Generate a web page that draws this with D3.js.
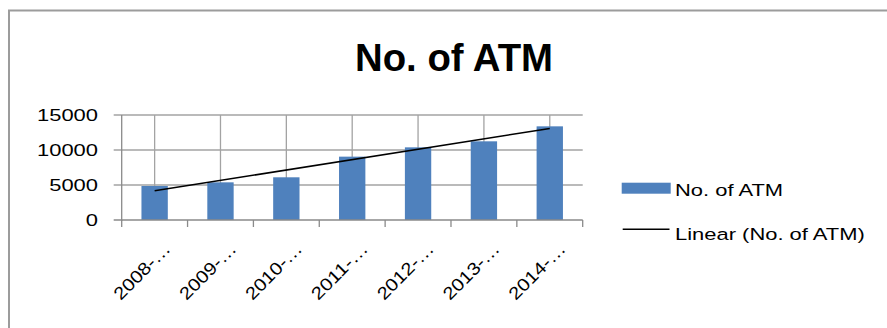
<!DOCTYPE html>
<html>
<head>
<meta charset="utf-8">
<script src="https://cdn.jsdelivr.net/npm/d3@7"></script>
<style>
  html, body { margin: 0; padding: 0; background: #fff; }
  svg { display: block; }
  text { font-family: "Liberation Sans", Arial, sans-serif; fill: #000; }
</style>
</head>
<body>
<script>
// ---- data ----
const chartTitle = "No. of ATM";
const categories = ["2008-…", "2009-…", "2010-…", "2011-…", "2012-…", "2013-…", "2014-…"];
const atmValues = [4860, 5380, 6100, 9050, 10380, 11240, 13380];
const yTicks = [0, 5000, 10000, 15000];
const seriesName = "No. of ATM";
const trendName = "Linear (No. of ATM)";

// ---- layout ----
const W = 887, H = 328;
const plot = { left: 121.7, right: 582.7, top: 115, bottom: 220 };
const sx = 1.33; // horizontal stretch of the original rendering
const fontSize = 16.5;

const svg = d3.select("body").append("svg").attr("width", W).attr("height", H);

// outer frame
svg.append("rect")
  .attr("x", 9).attr("y", 10.5).attr("width", 900).attr("height", 400)
  .attr("fill", "none").attr("stroke", "#9c9c9c").attr("stroke-width", 2);

// title
svg.append("text")
  .attr("x", 454).attr("y", 71)
  .attr("text-anchor", "middle")
  .attr("font-size", 38).attr("font-weight", "bold")
  .attr("textLength", 198).attr("lengthAdjust", "spacingAndGlyphs")
  .text(chartTitle);

// scales
const x = d3.scaleBand().domain(categories)
  .range([plot.left, plot.right]).paddingInner(0.6).paddingOuter(0.3);
const xStep = d3.scalePoint().domain(categories)
  .range([plot.left, plot.right]).padding(0.5);
const y = d3.scaleLinear().domain([0, 15000]).range([plot.bottom, plot.top]);

const gridColor = "#a3a3a3";
const axisColor = "#8a8a8a";

// horizontal gridlines (with tick extensions to the left)
svg.append("g").selectAll("line").data(yTicks.filter(d => d > 0)).join("line")
  .attr("x1", plot.left - 8).attr("x2", plot.right)
  .attr("y1", d => y(d)).attr("y2", d => y(d))
  .attr("stroke", gridColor).attr("stroke-width", 1.3);

// vertical gridlines at category centres
svg.append("g").selectAll("line").data(categories).join("line")
  .attr("x1", d => xStep(d)).attr("x2", d => xStep(d))
  .attr("y1", plot.top).attr("y2", plot.bottom)
  .attr("stroke", gridColor).attr("stroke-width", 1.3);

// y axis line
svg.append("line")
  .attr("x1", plot.left).attr("x2", plot.left)
  .attr("y1", plot.top).attr("y2", plot.bottom + 1)
  .attr("stroke", axisColor).attr("stroke-width", 1.3);

// bars
svg.append("g").selectAll("rect").data(atmValues).join("rect")
  .attr("x", (d, i) => x(categories[i]))
  .attr("width", x.bandwidth())
  .attr("y", d => y(d))
  .attr("height", d => y(0) - y(d))
  .attr("fill", "#4f81bd");

// x axis line + ticks at category boundaries
svg.append("line")
  .attr("x1", plot.left - 8).attr("x2", plot.right)
  .attr("y1", plot.bottom).attr("y2", plot.bottom)
  .attr("stroke", axisColor).attr("stroke-width", 1.3);
const bounds = categories.map(c => xStep(c) - xStep.step() / 2).concat([plot.right]);
svg.append("g").selectAll("line").data(bounds).join("line")
  .attr("x1", d => d).attr("x2", d => d)
  .attr("y1", plot.bottom).attr("y2", plot.bottom + 7)
  .attr("stroke", axisColor).attr("stroke-width", 1.3);

// y tick labels
svg.append("g").selectAll("text").data(yTicks).join("text")
  .attr("transform", d => `translate(98,${y(d)}) scale(${sx},1)`)
  .attr("text-anchor", "end").attr("dy", "0.36em")
  .attr("font-size", fontSize)
  .text(d => d);

// x tick labels (rotated)
svg.append("g").selectAll("text").data(categories).join("text")
  .attr("transform", d => `translate(${xStep(d) + 17},${plot.bottom + 30}) rotate(-45)`)
  .attr("text-anchor", "end")
  .attr("font-size", 17.5)
  .attr("textLength", 72).attr("lengthAdjust", "spacingAndGlyphs")
  .text(d => d);

// linear trendline (least squares)
const n = atmValues.length;
const xs = d3.range(n);
const mx = d3.mean(xs), my = d3.mean(atmValues);
const slope = d3.sum(xs, i => (i - mx) * (atmValues[i] - my)) / d3.sum(xs, i => (i - mx) ** 2);
const intercept = my - slope * mx;
const trend = [0, n - 1].map(i => [xStep(categories[i]), y(intercept + slope * i)]);
svg.append("path")
  .attr("d", d3.line()(trend))
  .attr("fill", "none").attr("stroke", "#000").attr("stroke-width", 1.6);

// legend
svg.append("rect")
  .attr("x", 621.7).attr("y", 182.7).attr("width", 49).attr("height", 11)
  .attr("fill", "#4f81bd");
svg.append("text")
  .attr("transform", `translate(675,195.5) scale(${sx},1)`)
  .attr("font-size", fontSize).text(seriesName);
svg.append("line")
  .attr("x1", 622.7).attr("x2", 669.5).attr("y1", 229.3).attr("y2", 229.3)
  .attr("stroke", "#000").attr("stroke-width", 1.6);
svg.append("text")
  .attr("transform", `translate(675,239.5) scale(${sx},1)`)
  .attr("font-size", fontSize).text(trendName);
</script>
</body>
</html>
